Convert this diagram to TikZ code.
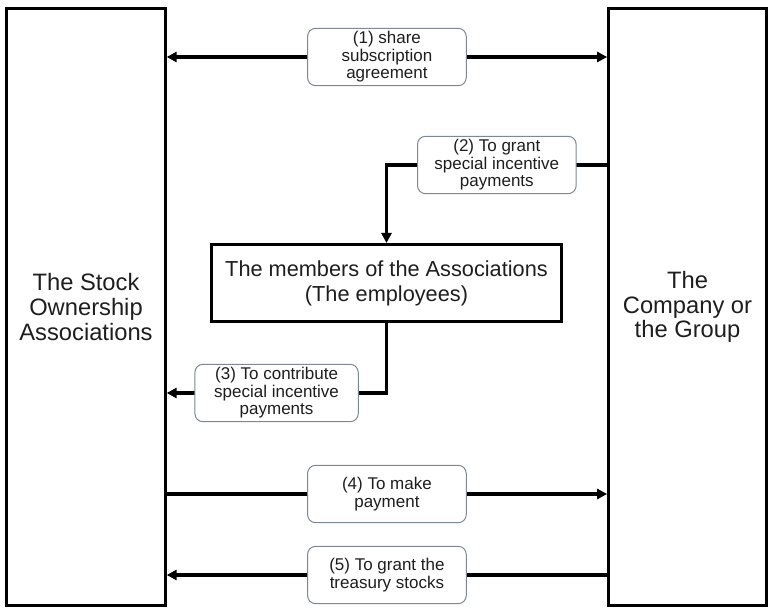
\documentclass[tikz,border=0pt]{standalone}
\usepackage{fontspec}
\setmainfont{Liberation Sans}
\usetikzlibrary{arrows.meta}
\definecolor{lblgray}{RGB}{125,135,150}
\definecolor{txt}{RGB}{30,30,30}
\begin{document}
\begin{tikzpicture}[x=0.75pt,y=-0.75pt,
  party/.style={draw,line width=2pt,minimum width=119pt,minimum height=447.75pt,align=center,text=txt,font=\fontsize{17.8}{18.4}\selectfont},
  lbl/.style={draw=lblgray,line width=0.75pt,fill=white,rounded corners=6pt,minimum width=119pt,minimum height=43pt,align=center,inner sep=2pt,text=txt,font=\fontsize{12.75}{13.1}\selectfont},
  link/.style={line width=2.5pt,>={Triangle[length=7.5pt,width=7.5pt]}}]
\useasboundingbox (0,0) rectangle (769,610);
\node[party] (assoc) at (86,307) {The Stock\\Ownership\\Associations};
\node[party,minimum width=118.5pt] (company) at (687.5,307) {The\\Company or\\the Group};
\node[draw,line width=2.25pt,minimum width=262.5pt,minimum height=57.75pt,align=center,text=txt,font=\fontsize{16.3}{18.75}\selectfont] (members) at (386.5,283) {The members of the Associations\\(The employees)};
\coordinate (r1) at (0,57);
\coordinate (r2) at (0,165);
\coordinate (r3) at (0,393);
\coordinate (r4) at (0,494);
\coordinate (r5) at (0,575);
\draw[link,<->] (assoc.east |- r1) -- node[lbl] (l1) {(1) share\\subscription\\agreement} (company.west |- r1);
\draw[link,->] (company.west |- r2) -- node[lbl] (l2) {(2) To grant\\special incentive\\payments} (members.north |- r2) -- (members.north);
\draw[link,->] (members.south) -- (members.south |- r3) -- node[lbl,minimum width=122.5pt] (l3) {(3) To contribute\\special incentive\\payments} (assoc.east |- r3);
\draw[link,->] (assoc.east |- r4) -- node[lbl] (l4) {(4) To make\\payment} (company.west |- r4);
\draw[link,->] (company.west |- r5) -- node[lbl] (l5) {(5) To grant the\\treasury stocks} (assoc.east |- r5);
\end{tikzpicture}
\end{document}
